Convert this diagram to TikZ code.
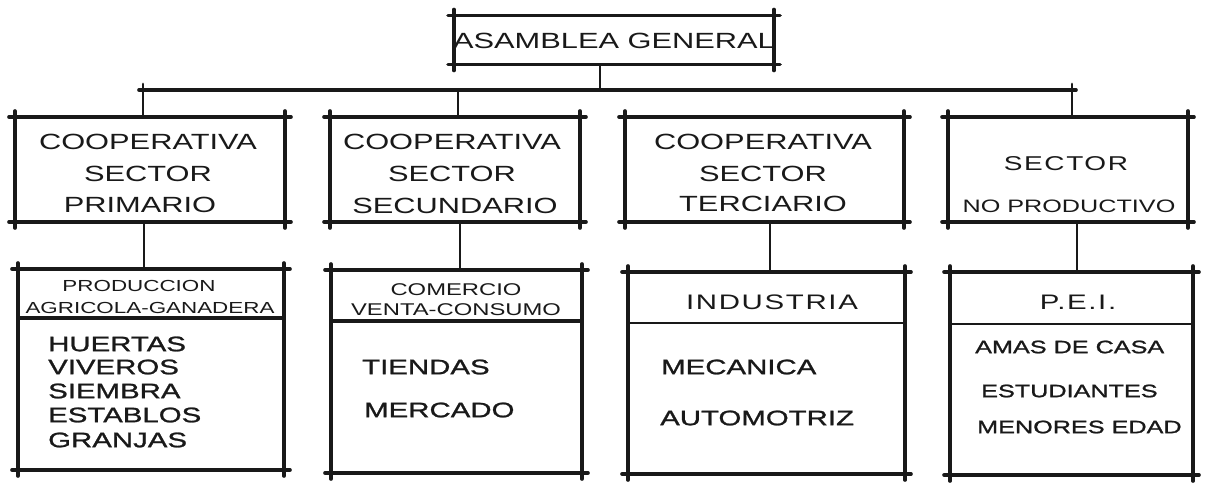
\documentclass[tikz,border=0pt]{standalone}
\usepackage{fontspec}
\newfontfamily\hand[FakeStretch=1.4]{Liberation Sans}
\newfontfamily\handb[FakeStretch=1.4,FakeBold=1.2]{Liberation Sans}
\begin{document}
\begin{tikzpicture}[x=1pt,y=-1pt,
  ink/.style={draw=black!90, line width=3.6pt, line cap=round},
  thin ink/.style={draw=black!90, line width=2.8pt, line cap=round},
  frame/.style={inner sep=0pt, outer sep=0pt},
  lab/.style={font=\hand\fontsize{22}{22}\selectfont, inner sep=0pt, text=black!90},
  head/.style={font=\hand\fontsize{16}{16}\selectfont, inner sep=0pt, text=black!90},
  body/.style={font=\handb\fontsize{21}{21}\selectfont, inner sep=0pt, anchor=west, text=black!90},
  bodyb/.style={font=\handb\fontsize{18}{18}\selectfont, inner sep=0pt, anchor=west, text=black!90}]
\useasboundingbox (0,0) rectangle (1210,490);
% frames
\node[frame, minimum width=320pt, minimum height=49pt] (top) at (614,40) {};
\node[frame, minimum width=270pt, minimum height=105pt] (b1) at (150,169.5) {};
\node[frame, minimum width=250pt, minimum height=105pt] (b2) at (455,169.5) {};
\node[frame, minimum width=279pt, minimum height=105pt] (b3) at (764.5,169.5) {};
\node[frame, minimum width=240pt, minimum height=105pt] (b4) at (1068,169.5) {};
\node[frame, minimum width=266pt, minimum height=201pt] (c1) at (151,369.5) {};
\node[frame, minimum width=251pt, minimum height=203pt] (c2) at (456.5,371.5) {};
\node[frame, minimum width=277pt, minimum height=202pt] (c3) at (766.5,373) {};
\node[frame, minimum width=243pt, minimum height=203pt] (c4) at (1071.5,373.5) {};
% sketched outlines with overshooting corners
\foreach \n in {top,b1,b2,b3,b4,c1,c2,c3,c4}{
  \draw[ink] ([xshift=-6pt]\n.north west) -- ([xshift=6pt]\n.north east);
  \draw[ink] ([xshift=-6pt]\n.south west) -- ([xshift=6pt]\n.south east);
  \draw[ink] ([yshift=6pt]\n.north west) -- ([yshift=-6pt]\n.south west);
  \draw[ink] ([yshift=6pt]\n.north east) -- ([yshift=-6pt]\n.south east);
}
% header dividers
\draw[ink] (c1.west |- 0,318) -- (c1.east |- 0,318);
\draw[ink] (c2.west |- 0,321) -- (c2.east |- 0,321);
\draw[thin ink] (c3.west |- 0,323) -- (c3.east |- 0,323);
\draw[thin ink] (c4.west |- 0,324) -- (c4.east |- 0,324);
% bus
\coordinate (busL) at (143,90);
\coordinate (busR) at (1072,90);
\coordinate (tdrop) at (600,90);
\coordinate (d2) at (458,90);
\draw[ink] ([xshift=-4pt]busL) -- ([xshift=4pt]busR);
\draw[thin ink] (top.south -| tdrop) -- (tdrop);
\draw[thin ink] ([yshift=6pt]busL) -- (b1.north -| busL);
\draw[thin ink] (d2) -- (b2.north -| d2);
\draw[thin ink] ([yshift=6pt]busR) -- (b4.north -| busR);
% second-level drops
\coordinate (e1) at (144,0);
\coordinate (e2) at (460,0);
\coordinate (e3) at (770,0);
\coordinate (e4) at (1077,0);
\draw[thin ink] (b1.south -| e1) -- (c1.north -| e1);
\draw[thin ink] (b2.south -| e2) -- (c2.north -| e2);
\draw[thin ink] (b3.south -| e3) -- (c3.north -| e3);
\draw[thin ink] (b4.south -| e4) -- (c4.north -| e4);
% texts
\node[lab] (ttop) at (614,41) {ASAMBLEA GENERAL};
\node[lab] (t11) at (148,142) {COOPERATIVA};
\node[lab] (t12) at (148,174) {SECTOR};
\node[lab] (t13) at (140,205) {PRIMARIO};
\node[lab] (t21) at (452,142) {COOPERATIVA};
\node[lab] (t22) at (452,174) {SECTOR};
\node[lab] (t23) at (455,206) {SECUNDARIO};
\node[lab] (t31) at (763,142) {COOPERATIVA};
\node[lab] (t32) at (763,174) {SECTOR};
\node[lab] (t33) at (763,204) {TERCIARIO};
\node[lab, font=\hand\fontsize{20}{20}\selectfont\addfontfeature{LetterSpace=8}] (t41) at (1066,164) {SECTOR};
\node[lab, font=\hand\fontsize{18}{18}\selectfont] (t42) at (1069,206) {NO PRODUCTIVO};
% row 3 headers
\node[head] (h11) at (139,286) {PRODUCCION};
\node[head] (h12) at (150,308) {AGRICOLA-GANADERA};
\node[head, font=\hand\fontsize{17}{17}\selectfont] (h21) at (456,290) {COMERCIO};
\node[head, font=\hand\fontsize{17}{17}\selectfont] (h22) at (456,310) {VENTA-CONSUMO};
\node[lab, font=\hand\fontsize{21}{21}\selectfont\addfontfeature{LetterSpace=8}] (h3) at (772,302) {INDUSTRIA};
\node[lab, font=\hand\fontsize{21}{21}\selectfont\addfontfeature{LetterSpace=8}] (h4) at (1078,302) {P.E.I.};
% bodies
\node[body] (l11) at (48,344) {HUERTAS};
\node[body] (l12) at (48,367) {VIVEROS};
\node[body] (l13) at (48,391) {SIEMBRA};
\node[body] (l14) at (48,415) {ESTABLOS};
\node[body] (l15) at (48,440) {GRANJAS};
\node[body] (l21) at (362,367) {TIENDAS};
\node[body] (l22) at (364,410) {MERCADO};
\node[body] (l31) at (661,367) {MECANICA};
\node[body] (l32) at (660,418) {AUTOMOTRIZ};
\node[bodyb] (l41) at (975,347) {AMAS DE CASA};
\node[bodyb] (l42) at (981,391) {ESTUDIANTES};
\node[bodyb] (l43) at (977,427) {MENORES EDAD};
\end{tikzpicture}
\end{document}
